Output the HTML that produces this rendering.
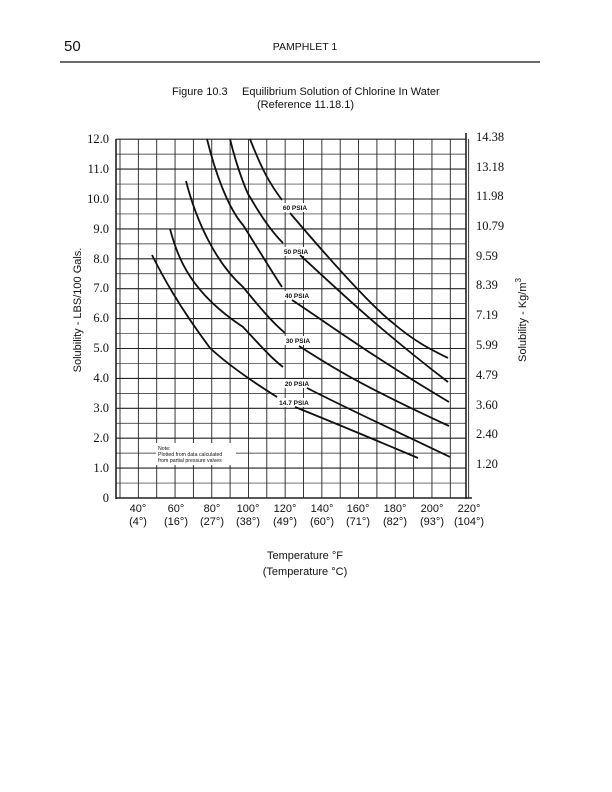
<!DOCTYPE html>
<html><head><meta charset="utf-8"><style>
html,body{margin:0;padding:0;background:#fff;}
svg{display:block;}
</style></head><body>
<svg width="612" height="792" viewBox="0 0 612 792" xmlns="http://www.w3.org/2000/svg">
<rect width="612" height="792" fill="#fff"/>
<g font-family="Liberation Sans, sans-serif" fill="#111">
<text x="64" y="51" font-size="15">50</text>
<text x="305" y="50" font-size="10.5" text-anchor="middle">PAMPHLET 1</text>
<text x="172" y="95" font-size="11">Figure 10.3</text>
<text x="242" y="95" font-size="11">Equilibrium Solution of Chlorine In Water</text>
<text x="257" y="108" font-size="11">(Reference 11.18.1)</text>
</g>
<line x1="60" y1="62" x2="540" y2="62" stroke="#111" stroke-width="1.2"/>
<g stroke="#222" stroke-width="0.9" id="grid"></g>
<script>
(function(){
var g=document.getElementById('grid'),ns='http://www.w3.org/2000/svg';
function L(a,b,c,d,w){var l=document.createElementNS(ns,'line');l.setAttribute('x1',a);l.setAttribute('y1',b);l.setAttribute('x2',c);l.setAttribute('y2',d);if(w)l.setAttribute('stroke-width',w);g.appendChild(l);}
for(var i=0;i<=24;i++){var y=498-i*14.95;L(116,y,466,y,(i%2==0)?1.1:0.7);}
for(var j=0;j<=19;j++){var x=120+j*18.35;L(x,139,x,498,0.9);}
L(116,139,116,499,1.6);L(466,133,466,499,1.6);L(116,498,472,498,1.6);
})();
</script>
<g font-family="Liberation Serif, serif" font-size="12.5" fill="#111" text-anchor="end">
<text x="109" y="143">12.0</text><text x="109" y="173">11.0</text><text x="109" y="203">10.0</text>
<text x="109" y="233">9.0</text><text x="109" y="263">8.0</text><text x="109" y="292">7.0</text>
<text x="109" y="322">6.0</text><text x="109" y="352">5.0</text><text x="109" y="382">4.0</text>
<text x="109" y="412">3.0</text><text x="109" y="442">2.0</text><text x="109" y="472">1.0</text>
<text x="109" y="502">0</text>
</g>
<g font-family="Liberation Serif, serif" font-size="12.5" fill="#111">
<text x="476" y="141">14.38</text><text x="476" y="171">13.18</text><text x="476" y="200">11.98</text>
<text x="476" y="230">10.79</text><text x="476" y="260">9.59</text><text x="476" y="289">8.39</text>
<text x="476" y="319">7.19</text><text x="476" y="349">5.99</text><text x="476" y="379">4.79</text>
<text x="476" y="409">3.60</text><text x="476" y="438">2.40</text><text x="476" y="468">1.20</text>
</g>
<g font-family="Liberation Sans, sans-serif" font-size="11" fill="#111" text-anchor="middle">
<text x="138" y="512">40°</text><text x="176" y="512">60°</text><text x="212" y="512">80°</text>
<text x="248" y="512">100°</text><text x="285" y="512">120°</text><text x="322" y="512">140°</text>
<text x="358" y="512">160°</text><text x="395" y="512">180°</text><text x="432" y="512">200°</text>
<text x="469" y="512">220°</text>
<text x="138" y="525">(4°)</text><text x="176" y="525">(16°)</text><text x="212" y="525">(27°)</text>
<text x="248" y="525">(38°)</text><text x="285" y="525">(49°)</text><text x="322" y="525">(60°)</text>
<text x="358" y="525">(71°)</text><text x="395" y="525">(82°)</text><text x="432" y="525">(93°)</text>
<text x="469" y="525">(104°)</text>
<text x="305" y="559">Temperature °F</text>
<text x="305" y="575">(Temperature °C)</text>
<text transform="translate(81,310) rotate(-90)">Solubility - LBS/100 Gals.</text>
<text transform="translate(526,320) rotate(-90)">Solubility - Kg/m<tspan dy="-5" font-size="8">3</tspan></text>
</g>
<g fill="#fff">
<rect x="281" y="203" width="29" height="9"/>
<rect x="282" y="247" width="29" height="9"/>
<rect x="283" y="291" width="29" height="9"/>
<rect x="284" y="336" width="29" height="9"/>
<rect x="283" y="379" width="29" height="9"/>
<rect x="277" y="398" width="35" height="9"/>
</g>
<g fill="none" stroke="#111" stroke-width="1.8">
<path d="M152,255 C162,275 178,305 210,348 C225,362 250,380 277,397"/>
<path d="M295,407 C340,425 380,442 418,458"/>
<path d="M170,229 C178,258 190,292 243,327 C260,345 270,357 283,367"/>
<path d="M307,388 C350,410 400,433 450,457"/>
<path d="M186,181 C196,220 215,262 243,287 C262,310 272,322 285,333"/>
<path d="M299,346 C330,366 360,385 449,426"/>
<path d="M207,139 C215,172 228,208 243,225 C262,255 272,272 282,287"/>
<path d="M292,300 C330,325 370,355 449,402"/>
<path d="M230,139 C238,172 248,195 250,197 C262,218 272,232 283,243"/>
<path d="M300,255 C340,292 380,330 448,382"/>
<path d="M250,139 C262,170 270,184 282,200"/>
<path d="M290,213 C330,260 370,305 393,323 C415,342 432,350 448,358"/>
</g>
<g font-family="Liberation Sans, sans-serif" font-size="6.5" font-weight="bold" fill="#111" text-anchor="middle">
<text x="295" y="210">60 PSIA</text>
<text x="296" y="254">50 PSIA</text>
<text x="297" y="298">40 PSIA</text>
<text x="298" y="343">30 PSIA</text>
<text x="297" y="386">20 PSIA</text>
<text x="294" y="405">14.7 PSIA</text>
</g>
<rect x="156" y="443" width="80" height="22" fill="#fff"/>
<g font-family="Liberation Sans, sans-serif" font-size="5.2" fill="#111">
<text x="158" y="450">Note:</text>
<text x="158" y="456">Plotted from data calculated</text>
<text x="158" y="462">from partial pressure valves</text>
</g>
</svg>
</body></html>
